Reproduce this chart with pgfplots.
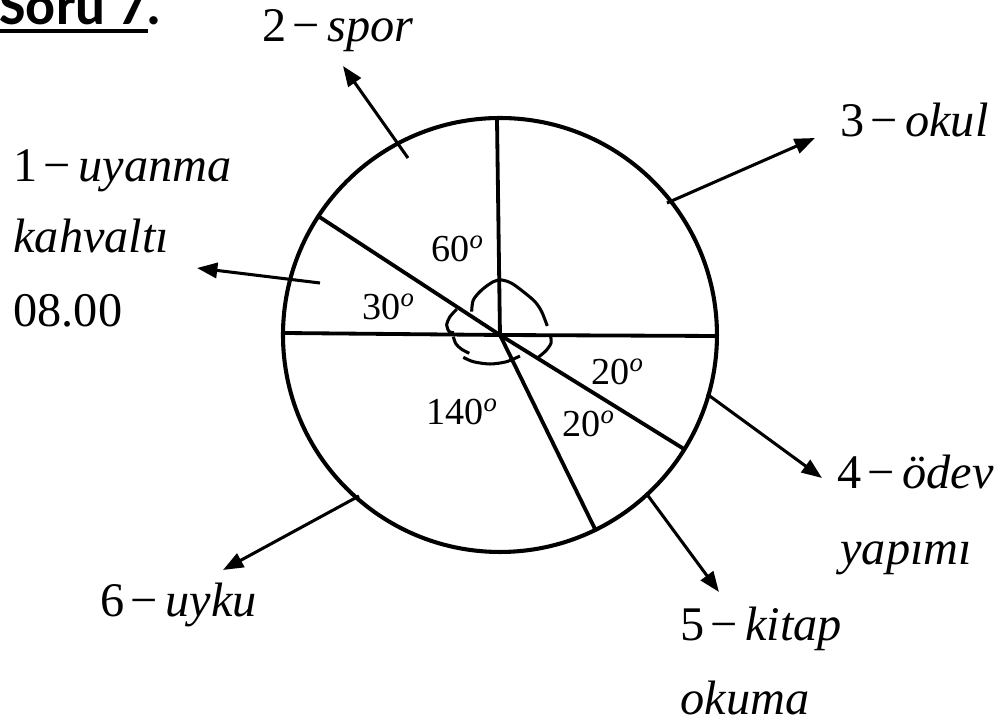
\documentclass[border=0pt]{standalone}
\usepackage{fontspec}
\setmainfont{Liberation Serif}
\newfontfamily\tnr{Liberation Serif}
\newfontfamily\carlito{Carlito}
\usepackage{pgfplots}
\pgfplotsset{compat=1.18}
\usetikzlibrary{arrows.meta}

% label "n - word": upright number, minus, italic word
\newcommand{\lbl}[2]{#1\hspace{0.12em}−\hspace{0.16em}\textit{#2}}
\newcommand{\ang}[1]{#1\textsuperscript{\textit{o}}}
\tikzset{
  lbl/.style={anchor=base west, inner sep=0pt, font=\tnr\fontsize{19}{22}\selectfont},
  angl/.style={anchor=base west, inner sep=0pt, font=\tnr\fontsize{15}{18}\selectfont},
  arr/.style={line width=1.2pt, -{Triangle[length=8pt,width=6pt]}},
}

\begin{document}
\begin{tikzpicture}
\path[use as bounding box] (0,0) rectangle (13.908cm,10.051cm);
\begin{axis}[
    at={(0,10.051cm)}, anchor=north west,
    x=0.013825cm, y=0.013825cm, y dir=reverse,
    xmin=0, xmax=1006, ymin=0, ymax=727,
    hide axis, clip=false,
    every axis plot/.append style={black, no markers},
]
% pie outline
\draw[line width=1.6pt] (axis cs:500,335) circle[radius=217];

% sector borders (centre -> rim), drawn angles 0, 90, 147, 180, -32, -64
\addplot[line width=1.5pt] coordinates {(500,335) (717,336)};
\addplot[line width=1.5pt] coordinates {(500,335) (497,118)};
\addplot[line width=1.5pt] coordinates {(500,335) (318,216)};
\addplot[line width=1.5pt] coordinates {(500,335) (284,333)};
\addplot[line width=1.5pt] coordinates {(500,335) (684,449)};
\addplot[line width=1.5pt] coordinates {(500,335) (595,529)};

% hand drawn angle marks
\addplot[line width=1.2pt, smooth] coordinates {(471.7,311.7) (473.3,300) (481.7,290) (493.3,281.7) (501.7,280) (511.7,283.3) (523.3,291.7) (535,301.7) (541.7,311.7) (547.3,326)};
\addplot[line width=1.2pt, smooth] coordinates {(550.7,336.7) (551,343.3) (546,350.7) (538.3,357.3)};
\addplot[line width=1.2pt, smooth] coordinates {(456.7,309.3) (450,316.7) (446.7,325) (449.3,331.7) (454,332.7)};
\addplot[line width=1.2pt, smooth] coordinates {(453.3,336.7) (456,344) (461.7,349.3) (469.3,353.3)};
\addplot[line width=1.2pt, smooth] coordinates {(463.3,357.3) (473.3,361.7) (490,364) (506.7,361.7) (520,356)};

% arrows to the labels
\addplot[arr] coordinates {(408,158) (343,66)};
\addplot[arr] coordinates {(320,283) (197,268)};
\addplot[arr] coordinates {(667,203) (815,138)};
\addplot[arr] coordinates {(707,394) (822,478)};
\addplot[arr] coordinates {(646,493) (719,592)};
\addplot[arr] coordinates {(359,496) (223,570)};

% title
\node[anchor=base west, inner sep=0pt, font=\carlito\bfseries\fontsize{22}{26}\selectfont] at (axis cs:-1,25) {Soru 7.};
\draw[line width=1.6pt] (axis cs:0,31) -- (axis cs:148,31);

% labels
\node[lbl] at (axis cs:262,42) {\lbl{2}{spor}};
\node[lbl] at (axis cs:13,182) {\lbl{1}{uyanma}};
\node[lbl] at (axis cs:13,253) {\textit{kahvaltı}};
\node[lbl] at (axis cs:13,327) {08.00};
\node[lbl] at (axis cs:840,137) {\lbl{3}{okul}};
\node[lbl] at (axis cs:837,489) {\lbl{4}{ödev}};
\node[lbl] at (axis cs:840,565) {\textit{yapımı}};
\node[lbl] at (axis cs:680,641) {\lbl{5}{kitap}};
\node[lbl] at (axis cs:680,715) {\textit{okuma}};
\node[lbl] at (axis cs:100,617) {\lbl{6}{uyku}};

% sector angles
\node[angl] at (axis cs:431,262) {\ang{60}};
\node[angl] at (axis cs:362,320) {\ang{30}};
\node[angl] at (axis cs:591,385) {\ang{20}};
\node[angl] at (axis cs:562,437) {\ang{20}};
\node[angl] at (axis cs:426,425) {\ang{140}};
\end{axis}
\end{tikzpicture}
\end{document}
